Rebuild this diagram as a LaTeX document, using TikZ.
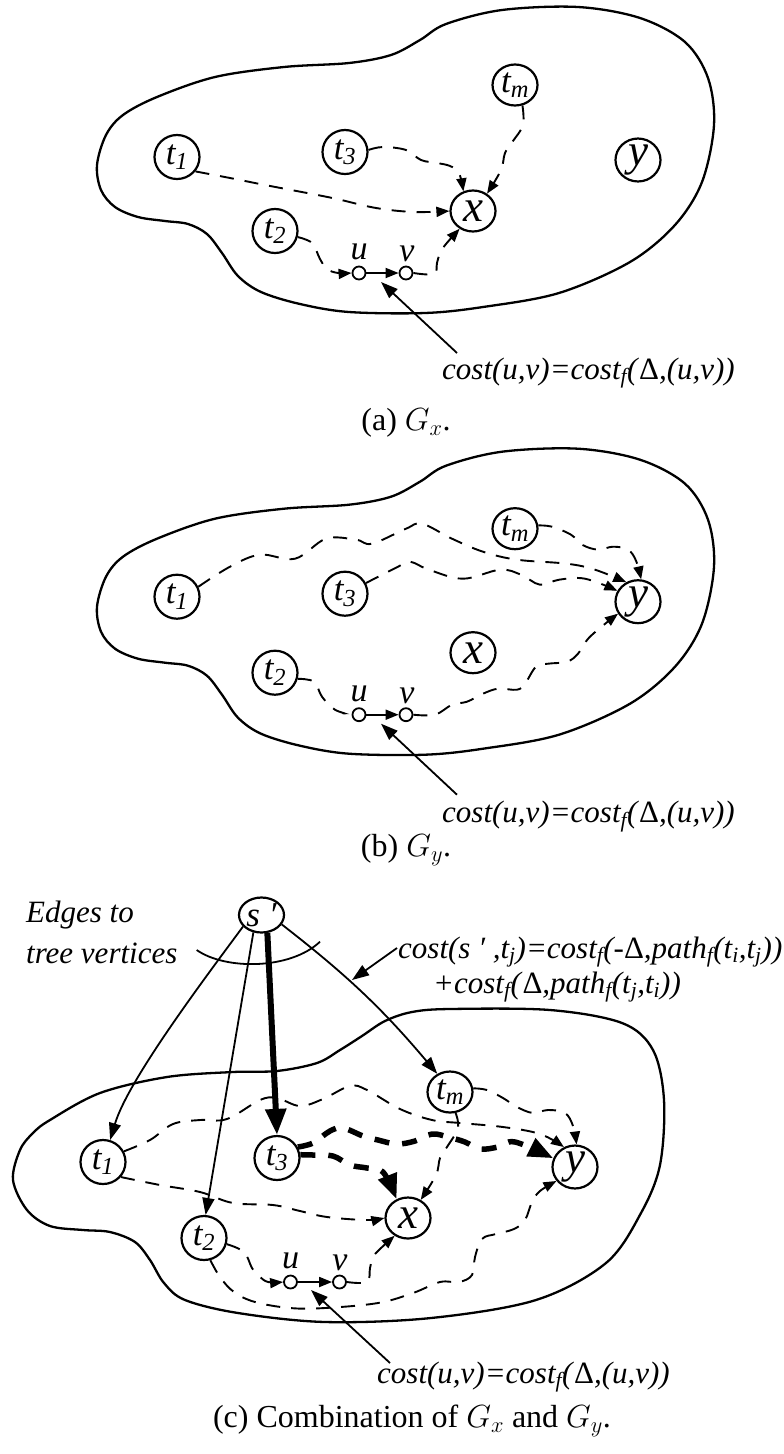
\RequirePackage{fix-cm}
\documentclass[tikz,border=0pt]{standalone}
\usepackage{fontspec}
\setmainfont{Liberation Serif}
\usetikzlibrary{shapes.geometric,arrows.meta,calc}
\newcommand{\sbs}[1]{\textsubscript{\itshape #1}}
\newcommand{\Dl}{\textup{Δ}}
\tikzset{
  blob/.style={line width=2.3pt, line join=round},
  vtx/.style={draw, ellipse, line width=2.2pt, minimum width=45pt, minimum height=44pt, inner sep=0pt, font=\fontsize{35}{35}\selectfont\itshape},
  bigv/.style={vtx, minimum height=41pt, font=\fontsize{45}{45}\selectfont\itshape},
  sv/.style={draw, circle, line width=1.8pt, minimum size=13pt, inner sep=0pt},
  vlab/.style={font=\fontsize{34}{34}\selectfont\itshape, inner sep=0pt},
  dsh/.style={line width=1.9pt, dash pattern=on 14pt off 11pt},
  thk/.style={line width=5.5pt, dash pattern=on 15pt off 13pt},
  atip/.style={-{Triangle[length=13pt,width=10pt]}},
  midtip/.style={-{Triangle[length=17pt,width=12pt]}},
  bigtip/.style={-{Triangle[length=25pt,width=19pt]}},
  ln/.style={line width=1.8pt},
  lbl/.style={font=\fontsize{31}{36}\selectfont\itshape, inner sep=0pt},
  captxt/.style={font=\fontsize{32}{36}\selectfont, inner sep=0pt},
}
\begin{document}
\begin{tikzpicture}[x=1pt,y=1pt]
\useasboundingbox (0,0) rectangle (784,-1454);

% ================= panel (a) =================
\draw[blob] plot[smooth cycle, tension=0.55] coordinates {
 (97,-165) (106,-135) (123,-115) (157,-97) (215,-77) (284,-67) (349,-63) (391,-55) (420,-40) (446,-24)
 (502,-10) (578,-7) (640,-18) (685,-42) (708,-78) (714,-125) (702,-182) (675,-225) (630,-262)
 (559,-293) (483,-307) (425,-313) (349,-312) (300,-304) (261,-292) (238,-276) (222,-253) (207,-234)
 (188,-224) (165,-221) (138,-217) (115,-207) (101,-190)};

\node[vtx]  (a-t1) at (177,-157) {t\sbs{1}};
\node[vtx]  (a-t3) at (345,-152) {t\sbs{3}};
\node[vtx, minimum height=41pt] (a-tm) at (515,-85) {t\sbs{m}};
\node[bigv] (a-y)  at (638,-160) {y};
\node[bigv] (a-x)  at (473,-211) {x};
\node[vtx]  (a-t2) at (275,-231) {t\sbs{2}};
\node[sv]   (a-u)  at (359,-273) {};
\node[sv]   (a-v)  at (406,-273) {};
\node[vlab] (a-ul) at (359,-252) {u};
\node[vlab] (a-vl) at (407,-254) {v};

\draw[dsh,atip] plot[smooth,tension=0.6] coordinates {(a-t1.-38) (230,-178) (265,-185) (307,-193) (337,-199) (376,-208) (414,-212) (a-x.180)};
\draw[dsh,atip] plot[smooth,tension=0.6] coordinates {(a-t3.5) (383,-147) (406,-150) (421,-160) (437,-163) (450,-166) (459,-173) (a-x.116)};
\draw[dsh,atip] plot[smooth,tension=0.6] coordinates {(a-tm.-70) (523,-125) (513,-141) (505,-153) (501,-170) (a-x.51)};
\draw[dsh,atip] plot[smooth,tension=0.6] coordinates {(a-t2.-15) (312,-243) (320,-259) (327,-269) (338,-273) (a-u.west)};
\draw[ln,atip] (a-u) -- (a-v);
\draw[dsh,atip] plot[smooth,tension=0.6] coordinates {(a-v.east) (434,-274) (437,-263) (440,-253) (446,-244) (a-x.233)};

\node[lbl, anchor=west] (a-cost) at (442,-373) {cost(u,v)=cost\sbs{f}(\Dl,(u,v))};
\coordinate (a-ann0) at (457,-353);
\coordinate (a-ann1) at (381,-282);
\draw[ln,midtip] (a-ann0) -- (a-ann1);
\node[captxt] (a-cap) at (406,-423) {(a) $G_x$.};

% ================= panel (b) =================
\begin{scope}[yshift=-441.7pt]
\draw[blob] plot[smooth cycle, tension=0.55] coordinates {
 (97,-165) (106,-135) (123,-115) (157,-97) (215,-77) (284,-67) (349,-63) (391,-55) (420,-40) (446,-24)
 (502,-10) (578,-7) (640,-18) (685,-42) (708,-78) (714,-125) (702,-182) (675,-225) (630,-262)
 (559,-293) (483,-307) (425,-313) (349,-312) (300,-304) (261,-292) (238,-276) (222,-253) (207,-234)
 (188,-224) (165,-221) (138,-217) (115,-207) (101,-190)};

\node[vtx]  (b-t1) at (177,-155) {t\sbs{1}};
\node[vtx]  (b-t3) at (345,-152) {t\sbs{3}};
\node[vtx, minimum height=41pt] (b-tm) at (515,-87) {t\sbs{m}};
\node[bigv] (b-y)  at (638,-160) {y};
\node[bigv] (b-x)  at (473,-211) {x};
\node[vtx]  (b-t2) at (275,-231) {t\sbs{2}};
\node[sv]   (b-u)  at (359,-273) {};
\node[sv]   (b-v)  at (406,-273) {};
\node[vlab] (b-ul) at (359,-252) {u};
\node[vlab] (b-vl) at (407,-254) {v};

\draw[dsh,atip] plot[smooth,tension=0.6] coordinates {(b-t1.25) (230,-125) (260,-113) (295,-117) (326,-97) (356,-98) (372,-102) (406,-87) (422,-82) (452,-97) (483,-110) (517,-118) (567,-122) (595,-128) (b-y.121)};
\draw[dsh,atip] plot[smooth,tension=0.6] coordinates {(b-t3.27) (398,-125) (410,-120) (429,-128) (463,-137) (500,-128) (521,-133) (540,-143) (559,-138) (585,-137) (b-y.152)};
\draw[dsh,atip] plot[smooth,tension=0.6] coordinates {(b-tm.8) (552,-85) (571,-93) (582,-103) (598,-108) (613,-105) (628,-108) (636,-119) (b-y.82)};
\draw[dsh,shorten >=14pt] plot[smooth,tension=0.6] coordinates {(b-t2.-15) (314,-240) (322,-255) (335,-268) (b-u.west)};
\draw[ln,atip] (b-u) -- (b-v);
\draw[dsh,atip] plot[smooth,tension=0.6] coordinates {(b-v.east) (435,-273) (452,-263) (467,-260) (483,-252) (498,-247) (517,-248) (525,-242) (536,-225) (548,-222) (567,-220) (578,-212) (590,-195) (b-y.211)};

\node[lbl, anchor=west] (b-cost) at (442,-375) {cost(u,v)=cost\sbs{f}(\Dl,(u,v))};
\coordinate (b-ann0) at (457,-353);
\coordinate (b-ann1) at (381,-282);
\draw[ln,midtip] (b-ann0) -- (b-ann1);
\end{scope}
\node[captxt] (b-cap) at (406,-850) {(b) $G_y$.};

% ================= panel (c) =================
\draw[blob] plot[smooth cycle, tension=0.55] coordinates {
 (13,-1180) (20,-1150) (33,-1133) (50,-1120) (100,-1093) (167,-1077) (233,-1072) (277,-1071)
 (317,-1063) (340,-1050) (362,-1036) (385,-1021) (412,-1012) (450,-1009) (550,-1010) (622,-1023)
 (653,-1050) (664,-1100) (660,-1165) (641,-1213) (606,-1263) (536,-1300) (431,-1318) (325,-1322)
 (238,-1313) (185,-1300) (164,-1283) (150,-1260) (135,-1242) (110,-1232) (83,-1230) (50,-1226) (27,-1210)};

\node[vtx, minimum height=35pt, minimum width=45pt] (c-s) at (261.5,-915) {s ′};
\node[vtx]  (c-t1) at (103,-1162) {t\sbs{1}};
\node[vtx]  (c-t3) at (277,-1158) {t\sbs{3}};
\node[vtx, minimum height=41pt] (c-tm) at (450,-1092) {t\sbs{m}};
\node[bigv] (c-y)  at (575,-1167) {y};
\node[bigv] (c-x)  at (408,-1218) {x};
\node[vtx]  (c-t2) at (204,-1238) {t\sbs{2}};
\node[sv]   (c-u)  at (290.5,-1282) {};
\node[sv]   (c-v)  at (339.5,-1282) {};
\node[vlab] (c-ul) at (290.5,-1261) {u};
\node[vlab] (c-vl) at (340,-1263) {v};

% edges from s'
\draw[ln,midtip] (c-s.212) .. controls (205,-978) and (128,-1080) .. (c-t1.72);
\draw[ln,midtip] (c-s.245) -- (c-t2.86);
\draw[line width=6pt,-{Triangle[length=26pt,width=20pt]}] (c-s.-72) -- (c-t3.north);
\draw[ln,midtip] (c-s.-25) to[bend left=6] (c-tm.125);
\draw[line width=1.8pt] (196.7,-950) .. controls (225,-970) and (290,-970) .. (320,-941.7);

\node[lbl, anchor=west] (c-e1) at (26,-915) {Edges to};
\node[lbl, anchor=west] (c-e2) at (26,-953) {tree vertices};
\node[lbl, anchor=west] (c-k1) at (398,-952) {cost(s ′ ,t\sbs{j})=cost\sbs{f}(-\Dl,path\sbs{f}(t\sbs{i},t\sbs{j}))};
\node[lbl, anchor=west] (c-k2) at (433,-987) {+cost\sbs{f}(\Dl,path\sbs{f}(t\sbs{j},t\sbs{i}))};
\coordinate (c-k0) at (397,-948);
\coordinate (c-k9) at (352,-980);
\draw[ln,midtip] (c-k0) -- (c-k9);

% G_x paths
\draw[dsh,atip] plot[smooth,tension=0.6] coordinates {(c-t1.-40) (160,-1185) (200,-1192) (233,-1203) (273,-1205) (300,-1211) (327,-1217) (366,-1220) (c-x.180)};
\draw[thk,bigtip] plot[smooth,tension=0.6] coordinates {(c-t3.8) (313,-1155) (333,-1156) (350,-1165) (367,-1168) (383,-1172) (c-x.121)};
\draw[dsh,atip] plot[smooth,tension=0.6] coordinates {(c-tm.-75) (458,-1128) (447,-1147) (440,-1158) (436,-1175) (c-x.55)};
\draw[dsh,atip] plot[smooth,tension=0.6] coordinates {(c-t2.-15) (244,-1252) (252,-1268) (259,-1276) (268,-1282) (c-u.west)};
\draw[ln,atip] (c-u) -- (c-v);
\draw[dsh,atip] plot[smooth,tension=0.6] coordinates {(c-v.east) (367,-1282) (370,-1268) (373,-1257) (380,-1249) (c-x.233)};

% G_y paths
\draw[dsh,atip] plot[smooth,tension=0.6] coordinates {(c-t1.27) (150,-1140) (173,-1124) (200,-1120) (227,-1119) (260,-1100) (277,-1098) (300,-1106) (323,-1099) (350,-1086) (367,-1090) (400,-1109) (432,-1120) (460,-1123) (503,-1127) (540,-1134) (c-y.119)};
\draw[thk,bigtip] plot[smooth,tension=0.6] coordinates {(c-t3.28) (313,-1143) (330,-1131) (343,-1128) (363,-1136) (378,-1140) (397,-1144) (415,-1141) (432,-1134) (448,-1137) (465,-1142) (480,-1149) (498,-1147) (515,-1142) (c-y.158)};
\draw[dsh,atip] plot[smooth,tension=0.6] coordinates {(c-tm.9) (487,-1090) (503,-1098) (517,-1107) (533,-1113) (548,-1110) (565,-1113) (573,-1126) (c-y.86)};
\draw[dsh,atip] plot[smooth,tension=0.6] coordinates {(c-t2.-74) (220,-1277) (234,-1292) (255,-1302) (290,-1308) (325,-1308) (378,-1303) (413,-1293) (440,-1282) (459,-1282) (472,-1275) (475,-1257) (482,-1239) (496,-1234) (514,-1229) (525,-1220) (532,-1202) (540,-1191) (c-y.217)};

\node[lbl, anchor=west] (c-cost) at (377,-1377) {cost(u,v)=cost\sbs{f}(\Dl,(u,v))};
\coordinate (c-ann0) at (390,-1363);
\coordinate (c-ann1) at (311,-1290);
\draw[ln,midtip] (c-ann0) -- (c-ann1);
\node[captxt] (c-cap) at (412,-1421) {(c) Combination of $G_x$ and $G_y$.};
\end{tikzpicture}
\end{document}
